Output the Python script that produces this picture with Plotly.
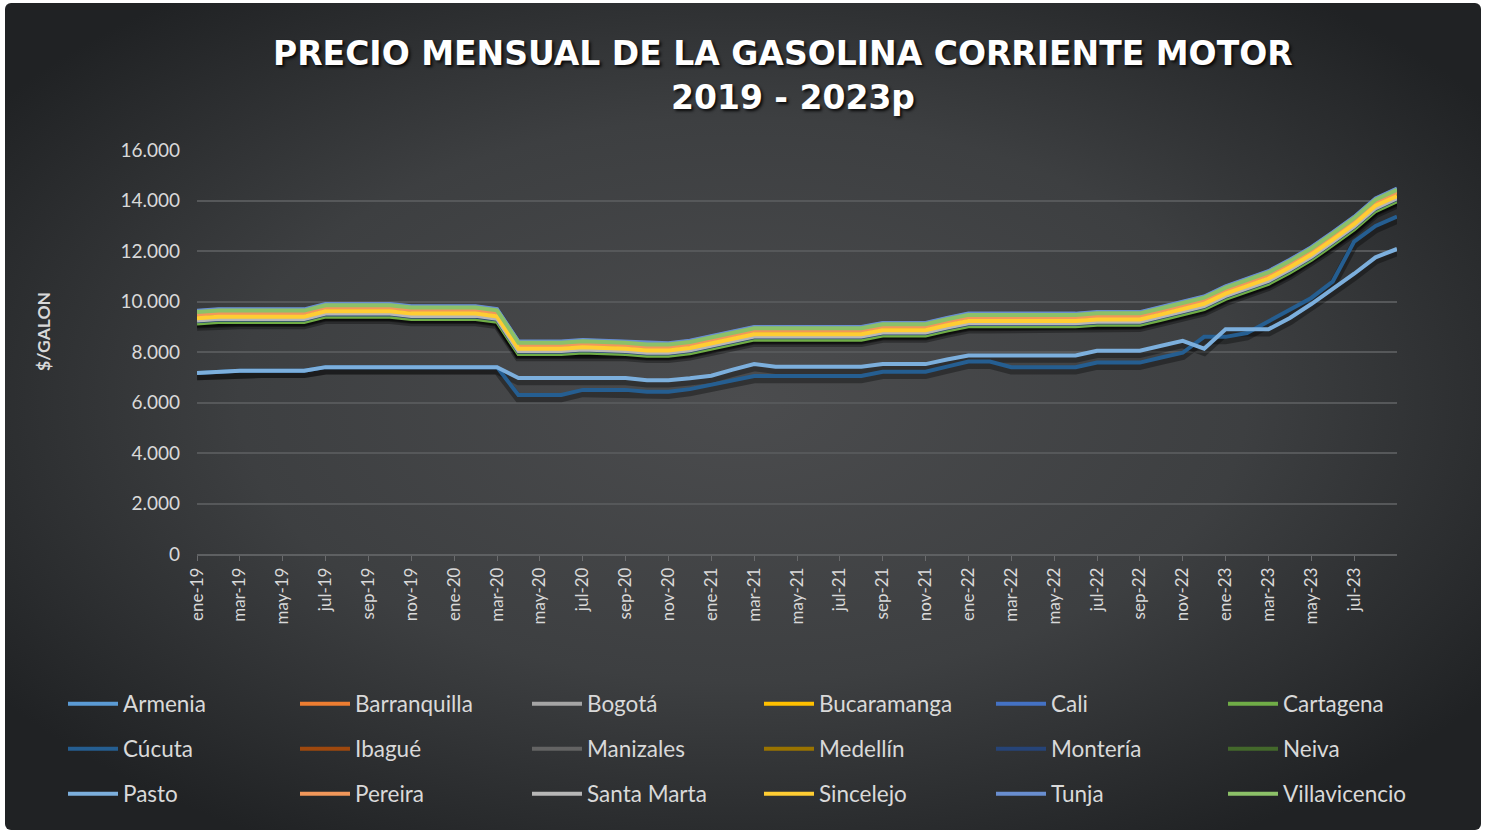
import base64
import plotly.graph_objects as go

# ---------------- data ----------------
categories = [
    "ene-19", "feb-19", "mar-19", "abr-19", "may-19", "jun-19", "jul-19", "ago-19", "sep-19", "oct-19", "nov-19", "dic-19",
    "ene-20", "feb-20", "mar-20", "abr-20", "may-20", "jun-20", "jul-20", "ago-20", "sep-20", "oct-20", "nov-20", "dic-20",
    "ene-21", "feb-21", "mar-21", "abr-21", "may-21", "jun-21", "jul-21", "ago-21", "sep-21", "oct-21", "nov-21", "dic-21",
    "ene-22", "feb-22", "mar-22", "abr-22", "may-22", "jun-22", "jul-22", "ago-22", "sep-22", "oct-22", "nov-22", "dic-22",
    "ene-23", "feb-23", "mar-23", "abr-23", "may-23", "jun-23", "jul-23", "ago-23", "sep-23",
]

armenia = [9440, 9500, 9500, 9500, 9500, 9500, 9710, 9710, 9710, 9710, 9620, 9620, 9620, 9620, 9510, 8230, 8230, 8230, 8290, 8260, 8230, 8160, 8160, 8260, 8440, 8620, 8800, 8800, 8800, 8800, 8800, 8800, 8960, 8960, 8960, 9160, 9330, 9330, 9330, 9330, 9330, 9330, 9390, 9390, 9390, 9590, 9790, 10010, 10410, 10700, 11010, 11460, 11960, 12550, 13160, 13890, 14280]
barranquilla = [9280, 9340, 9340, 9340, 9340, 9340, 9550, 9550, 9550, 9550, 9460, 9460, 9460, 9460, 9350, 8070, 8070, 8070, 8130, 8100, 8070, 8000, 8000, 8100, 8280, 8460, 8640, 8640, 8640, 8640, 8640, 8640, 8800, 8800, 8800, 9000, 9170, 9170, 9170, 9170, 9170, 9170, 9230, 9230, 9230, 9430, 9630, 9850, 10250, 10540, 10850, 11300, 11800, 12390, 13000, 13730, 14120]
bogota = [9370, 9430, 9430, 9430, 9430, 9430, 9640, 9640, 9640, 9640, 9550, 9550, 9550, 9550, 9440, 8160, 8160, 8160, 8220, 8190, 8160, 8090, 8090, 8190, 8370, 8550, 8730, 8730, 8730, 8730, 8730, 8730, 8890, 8890, 8890, 9090, 9260, 9260, 9260, 9260, 9260, 9260, 9320, 9320, 9320, 9520, 9720, 9940, 10340, 10630, 10940, 11390, 11890, 12480, 13090, 13820, 14210]
bucaramanga = [9400, 9460, 9460, 9460, 9460, 9460, 9670, 9670, 9670, 9670, 9580, 9580, 9580, 9580, 9470, 8190, 8190, 8190, 8250, 8220, 8190, 8120, 8120, 8220, 8400, 8580, 8760, 8760, 8760, 8760, 8760, 8760, 8920, 8920, 8920, 9120, 9290, 9290, 9290, 9290, 9290, 9290, 9350, 9350, 9350, 9550, 9750, 9970, 10370, 10660, 10970, 11420, 11920, 12510, 13120, 13850, 14240]
cali = [9610, 9670, 9670, 9670, 9670, 9670, 9880, 9880, 9880, 9880, 9790, 9790, 9790, 9790, 9680, 8400, 8400, 8400, 8460, 8430, 8400, 8330, 8330, 8430, 8610, 8790, 8970, 8970, 8970, 8970, 8970, 8970, 9130, 9130, 9130, 9330, 9500, 9500, 9500, 9500, 9500, 9500, 9560, 9560, 9560, 9760, 9960, 10180, 10580, 10870, 11180, 11630, 12130, 12720, 13330, 14060, 14450]
cartagena = [9130, 9190, 9190, 9190, 9190, 9190, 9400, 9400, 9400, 9400, 9310, 9310, 9310, 9310, 9200, 7920, 7920, 7920, 7980, 7950, 7920, 7850, 7850, 7950, 8130, 8310, 8490, 8490, 8490, 8490, 8490, 8490, 8650, 8650, 8650, 8850, 9020, 9020, 9020, 9020, 9020, 9020, 9080, 9080, 9080, 9280, 9480, 9700, 10100, 10390, 10700, 11150, 11650, 12240, 12850, 13580, 13970]
cucuta = [7170, 7210, 7260, 7260, 7260, 7260, 7400, 7400, 7400, 7400, 7400, 7400, 7400, 7400, 7400, 6300, 6300, 6300, 6500, 6500, 6500, 6430, 6430, 6530, 6690, 6870, 7050, 7050, 7050, 7050, 7050, 7050, 7220, 7220, 7220, 7420, 7620, 7620, 7400, 7400, 7400, 7400, 7580, 7580, 7580, 7780, 7970, 8600, 8600, 8750, 9200, 9660, 10140, 10790, 12370, 12990, 13360]
ibague = [9500, 9560, 9560, 9560, 9560, 9560, 9770, 9770, 9770, 9770, 9680, 9680, 9680, 9680, 9570, 8290, 8290, 8290, 8350, 8320, 8290, 8220, 8220, 8320, 8500, 8680, 8860, 8860, 8860, 8860, 8860, 8860, 9020, 9020, 9020, 9220, 9390, 9390, 9390, 9390, 9390, 9390, 9450, 9450, 9450, 9650, 9850, 10070, 10470, 10760, 11070, 11520, 12020, 12610, 13220, 13950, 14340]
manizales = [9460, 9520, 9520, 9520, 9520, 9520, 9730, 9730, 9730, 9730, 9640, 9640, 9640, 9640, 9530, 8250, 8250, 8250, 8310, 8280, 8250, 8180, 8180, 8280, 8460, 8640, 8820, 8820, 8820, 8820, 8820, 8820, 8980, 8980, 8980, 9180, 9350, 9350, 9350, 9350, 9350, 9350, 9410, 9410, 9410, 9610, 9810, 10030, 10430, 10720, 11030, 11480, 11980, 12570, 13180, 13910, 14300]
medellin = [9420, 9480, 9480, 9480, 9480, 9480, 9690, 9690, 9690, 9690, 9600, 9600, 9600, 9600, 9490, 8210, 8210, 8210, 8270, 8240, 8210, 8140, 8140, 8240, 8420, 8600, 8780, 8780, 8780, 8780, 8780, 8780, 8940, 8940, 8940, 9140, 9310, 9310, 9310, 9310, 9310, 9310, 9370, 9370, 9370, 9570, 9770, 9990, 10390, 10680, 10990, 11440, 11940, 12530, 13140, 13870, 14260]
monteria = [9220, 9280, 9280, 9280, 9280, 9280, 9490, 9490, 9490, 9490, 9400, 9400, 9400, 9400, 9290, 8010, 8010, 8010, 8070, 8040, 8010, 7940, 7940, 8040, 8220, 8400, 8580, 8580, 8580, 8580, 8580, 8580, 8740, 8740, 8740, 8940, 9110, 9110, 9110, 9110, 9110, 9110, 9170, 9170, 9170, 9370, 9570, 9790, 10190, 10480, 10790, 11240, 11740, 12330, 12940, 13670, 14060]
neiva = [9540, 9600, 9600, 9600, 9600, 9600, 9810, 9810, 9810, 9810, 9720, 9720, 9720, 9720, 9610, 8330, 8330, 8330, 8390, 8360, 8330, 8260, 8260, 8360, 8540, 8720, 8900, 8900, 8900, 8900, 8900, 8900, 9060, 9060, 9060, 9260, 9430, 9430, 9430, 9430, 9430, 9430, 9490, 9490, 9490, 9690, 9890, 10110, 10510, 10800, 11110, 11560, 12060, 12650, 13260, 13990, 14380]
pasto = [7170, 7210, 7260, 7260, 7260, 7260, 7400, 7400, 7400, 7400, 7400, 7400, 7400, 7400, 7400, 6970, 6970, 6970, 6970, 6970, 6970, 6880, 6880, 6960, 7060, 7300, 7520, 7420, 7420, 7420, 7420, 7420, 7520, 7520, 7520, 7700, 7860, 7860, 7860, 7860, 7860, 7860, 8050, 8050, 8050, 8250, 8440, 8130, 8900, 8900, 8900, 9350, 9900, 10500, 11100, 11750, 12080]
pereira = [9480, 9540, 9540, 9540, 9540, 9540, 9750, 9750, 9750, 9750, 9660, 9660, 9660, 9660, 9550, 8270, 8270, 8270, 8330, 8300, 8270, 8200, 8200, 8300, 8480, 8660, 8840, 8840, 8840, 8840, 8840, 8840, 9000, 9000, 9000, 9200, 9370, 9370, 9370, 9370, 9370, 9370, 9430, 9430, 9430, 9630, 9830, 10050, 10450, 10740, 11050, 11500, 12000, 12590, 13200, 13930, 14320]
santa_marta = [9250, 9310, 9310, 9310, 9310, 9310, 9520, 9520, 9520, 9520, 9430, 9430, 9430, 9430, 9320, 8040, 8040, 8040, 8100, 8070, 8040, 7970, 7970, 8070, 8250, 8430, 8610, 8610, 8610, 8610, 8610, 8610, 8770, 8770, 8770, 8970, 9140, 9140, 9140, 9140, 9140, 9140, 9200, 9200, 9200, 9400, 9600, 9820, 10220, 10510, 10820, 11270, 11770, 12360, 12970, 13700, 14090]
sincelejo = [9340, 9400, 9400, 9400, 9400, 9400, 9610, 9610, 9610, 9610, 9520, 9520, 9520, 9520, 9410, 8130, 8130, 8130, 8190, 8160, 8130, 8060, 8060, 8160, 8340, 8520, 8700, 8700, 8700, 8700, 8700, 8700, 8860, 8860, 8860, 9060, 9230, 9230, 9230, 9230, 9230, 9230, 9290, 9290, 9290, 9490, 9690, 9910, 10310, 10600, 10910, 11360, 11860, 12450, 13060, 13790, 14180]
tunja = [9630, 9690, 9690, 9690, 9690, 9690, 9900, 9900, 9900, 9900, 9810, 9810, 9810, 9810, 9700, 8420, 8420, 8420, 8480, 8450, 8420, 8350, 8350, 8450, 8630, 8810, 8990, 8990, 8990, 8990, 8990, 8990, 9150, 9150, 9150, 9350, 9520, 9520, 9520, 9520, 9520, 9520, 9580, 9580, 9580, 9780, 9980, 10200, 10600, 10890, 11200, 11650, 12150, 12740, 13350, 14080, 14470]
villavicencio = [9580, 9640, 9640, 9640, 9640, 9640, 9850, 9850, 9850, 9850, 9760, 9760, 9760, 9760, 9650, 8370, 8370, 8370, 8430, 8400, 8370, 8300, 8300, 8400, 8580, 8760, 8940, 8940, 8940, 8940, 8940, 8940, 9100, 9100, 9100, 9300, 9470, 9470, 9470, 9470, 9470, 9470, 9530, 9530, 9530, 9730, 9930, 10150, 10550, 10840, 11150, 11600, 12100, 12690, 13300, 14030, 14420]

series_names = ["Armenia", "Barranquilla", "Bogotá", "Bucaramanga", "Cali", "Cartagena",
                "Cúcuta", "Ibagué", "Manizales", "Medellín", "Montería", "Neiva",
                "Pasto", "Pereira", "Santa Marta", "Sincelejo", "Tunja", "Villavicencio"]
series_values = [armenia, barranquilla, bogota, bucaramanga, cali, cartagena,
                 cucuta, ibague, manizales, medellin, monteria, neiva,
                 pasto, pereira, santa_marta, sincelejo, tunja, villavicencio]
series_colors = ["#5B9BD5", "#ED7D31", "#A5A5A5", "#FFC000", "#4472C4", "#70AD47",
                 "#255E91", "#9E480E", "#636363", "#997300", "#264478", "#43682B",
                 "#7CAFDD", "#F1975A", "#B7B7B7", "#FFCD33", "#698ED0", "#8CC168"]

y_tickvals = [0, 2000, 4000, 6000, 8000, 10000, 12000, 14000, 16000]
x_tickvals = categories[0:55:2]   # ene-19 ... jul-23 (the last month carries no label)

# ---------------- geometry helpers (pixel -> paper) ----------------
W, H = 1486, 833
L, R, T, B = 197, 89, 150, 279
PW, PH = W - L - R, H - T - B


def px(xp):
    return (xp - L) / PW


def py(yp):
    return (H - B - yp) / PH


FONT = "Lato"
TXT = "#d9d9d9"

fig = go.Figure()

# soft shadows (on hidden base axis, whose range is shifted so they sit a few px lower)
for vals in series_values:
    fig.add_trace(go.Scatter(x=categories, y=vals, mode="lines", yaxis="y",
                             line=dict(color="rgba(0,0,0,0.33)", width=8),
                             showlegend=False, hoverinfo="skip"))

legend_ids = ["legend", "legend2", "legend3"]
for i, (name, vals, col) in enumerate(zip(series_names, series_values, series_colors)):
    fig.add_trace(go.Scatter(x=categories, y=vals, name=name, mode="lines", yaxis="y2",
                             line=dict(color=col, width=4),
                             legend=legend_ids[i // 6]))

# background gradient (rounded dark chart area)
bw, bh = 1476, 827
svg = (f'<svg xmlns="http://www.w3.org/2000/svg" width="{bw}" height="{bh}" viewBox="0 0 {bw} {bh}" preserveAspectRatio="none">'
       '<defs><radialGradient id="g" cx="50%" cy="48%" r="62%">'
       '<stop offset="0" stop-color="#4b4c4e"/><stop offset="0.55" stop-color="#3d3f41"/>'
       '<stop offset="1" stop-color="#202224"/></radialGradient></defs>'
       f'<rect x="0" y="0" width="{bw}" height="{bh}" rx="6" ry="6" fill="url(#g)"/></svg>')
src = "data:image/svg+xml;base64," + base64.b64encode(svg.encode()).decode()

legend_common = dict(orientation="h", xanchor="left", yanchor="middle",
                     x=px(63), entrywidth=167, entrywidthmode="pixels", itemwidth=50,
                     font=dict(family=FONT, size=22.5, color=TXT), bgcolor="rgba(0,0,0,0)")

fig.update_layout(
    width=W, height=H, autosize=False,
    margin=dict(l=L, r=R, t=T, b=B, pad=0),
    paper_bgcolor="white", plot_bgcolor="rgba(0,0,0,0)",
    separators=",.",
    images=[dict(source=src, xref="paper", yref="paper", x=px(5), y=py(3),
                 sizex=bw / PW, sizey=bh / PH, xanchor="left", yanchor="top",
                 sizing="stretch", layer="below")],
    xaxis=dict(type="category", range=[0, len(categories) - 1],
               tickmode="array", tickvals=x_tickvals, ticktext=x_tickvals,
               tickangle=-90, tickfont=dict(family=FONT, size=17, color=TXT),
               ticks="outside", ticklen=5, tickcolor="#6a6b6d", tickwidth=1,
               showline=True, linecolor="#5e6062", linewidth=1.5,
               showgrid=False, zeroline=False),
    yaxis=dict(range=[130, 16130], visible=False, showgrid=False, zeroline=False),
    yaxis2=dict(range=[0, 16000], overlaying="y", side="left",
                tickmode="array", tickvals=y_tickvals, tickformat=",.0f",
                tickfont=dict(family=FONT, size=19, color=TXT),
                showgrid=True, gridcolor="#56585a", gridwidth=1.5,
                zeroline=False, showline=False, ticks="", ticklabelstandoff=16),
    legend=dict(legend_common, y=py(704)),
    legend2=dict(legend_common, y=py(749)),
    legend3=dict(legend_common, y=py(794)),
    showlegend=True,
)

title_font = dict(family="DejaVu Sans", size=33, color="white", weight="bold",
                  shadow="2px 2px 3px rgba(0,0,0,0.85)")
fig.add_annotation(text="PRECIO MENSUAL DE LA GASOLINA CORRIENTE MOTOR", xref="paper", yref="paper",
                   x=px(783), y=py(53), xanchor="center", yanchor="middle", showarrow=False,
                   font=title_font)
fig.add_annotation(text="2019 - 2023p", xref="paper", yref="paper",
                   x=px(793), y=py(97), xanchor="center", yanchor="middle", showarrow=False,
                   font=title_font)
fig.add_annotation(text="$/GALON", xref="paper", yref="paper", x=px(43), y=py(332),
                   xanchor="center", yanchor="middle", textangle=-90, showarrow=False,
                   font=dict(family=FONT, size=17.5, color=TXT, weight="bold"))

fig.write_html("out.html", config={"displayModeBar": False},
               post_script="document.body.style.margin='0px';")
